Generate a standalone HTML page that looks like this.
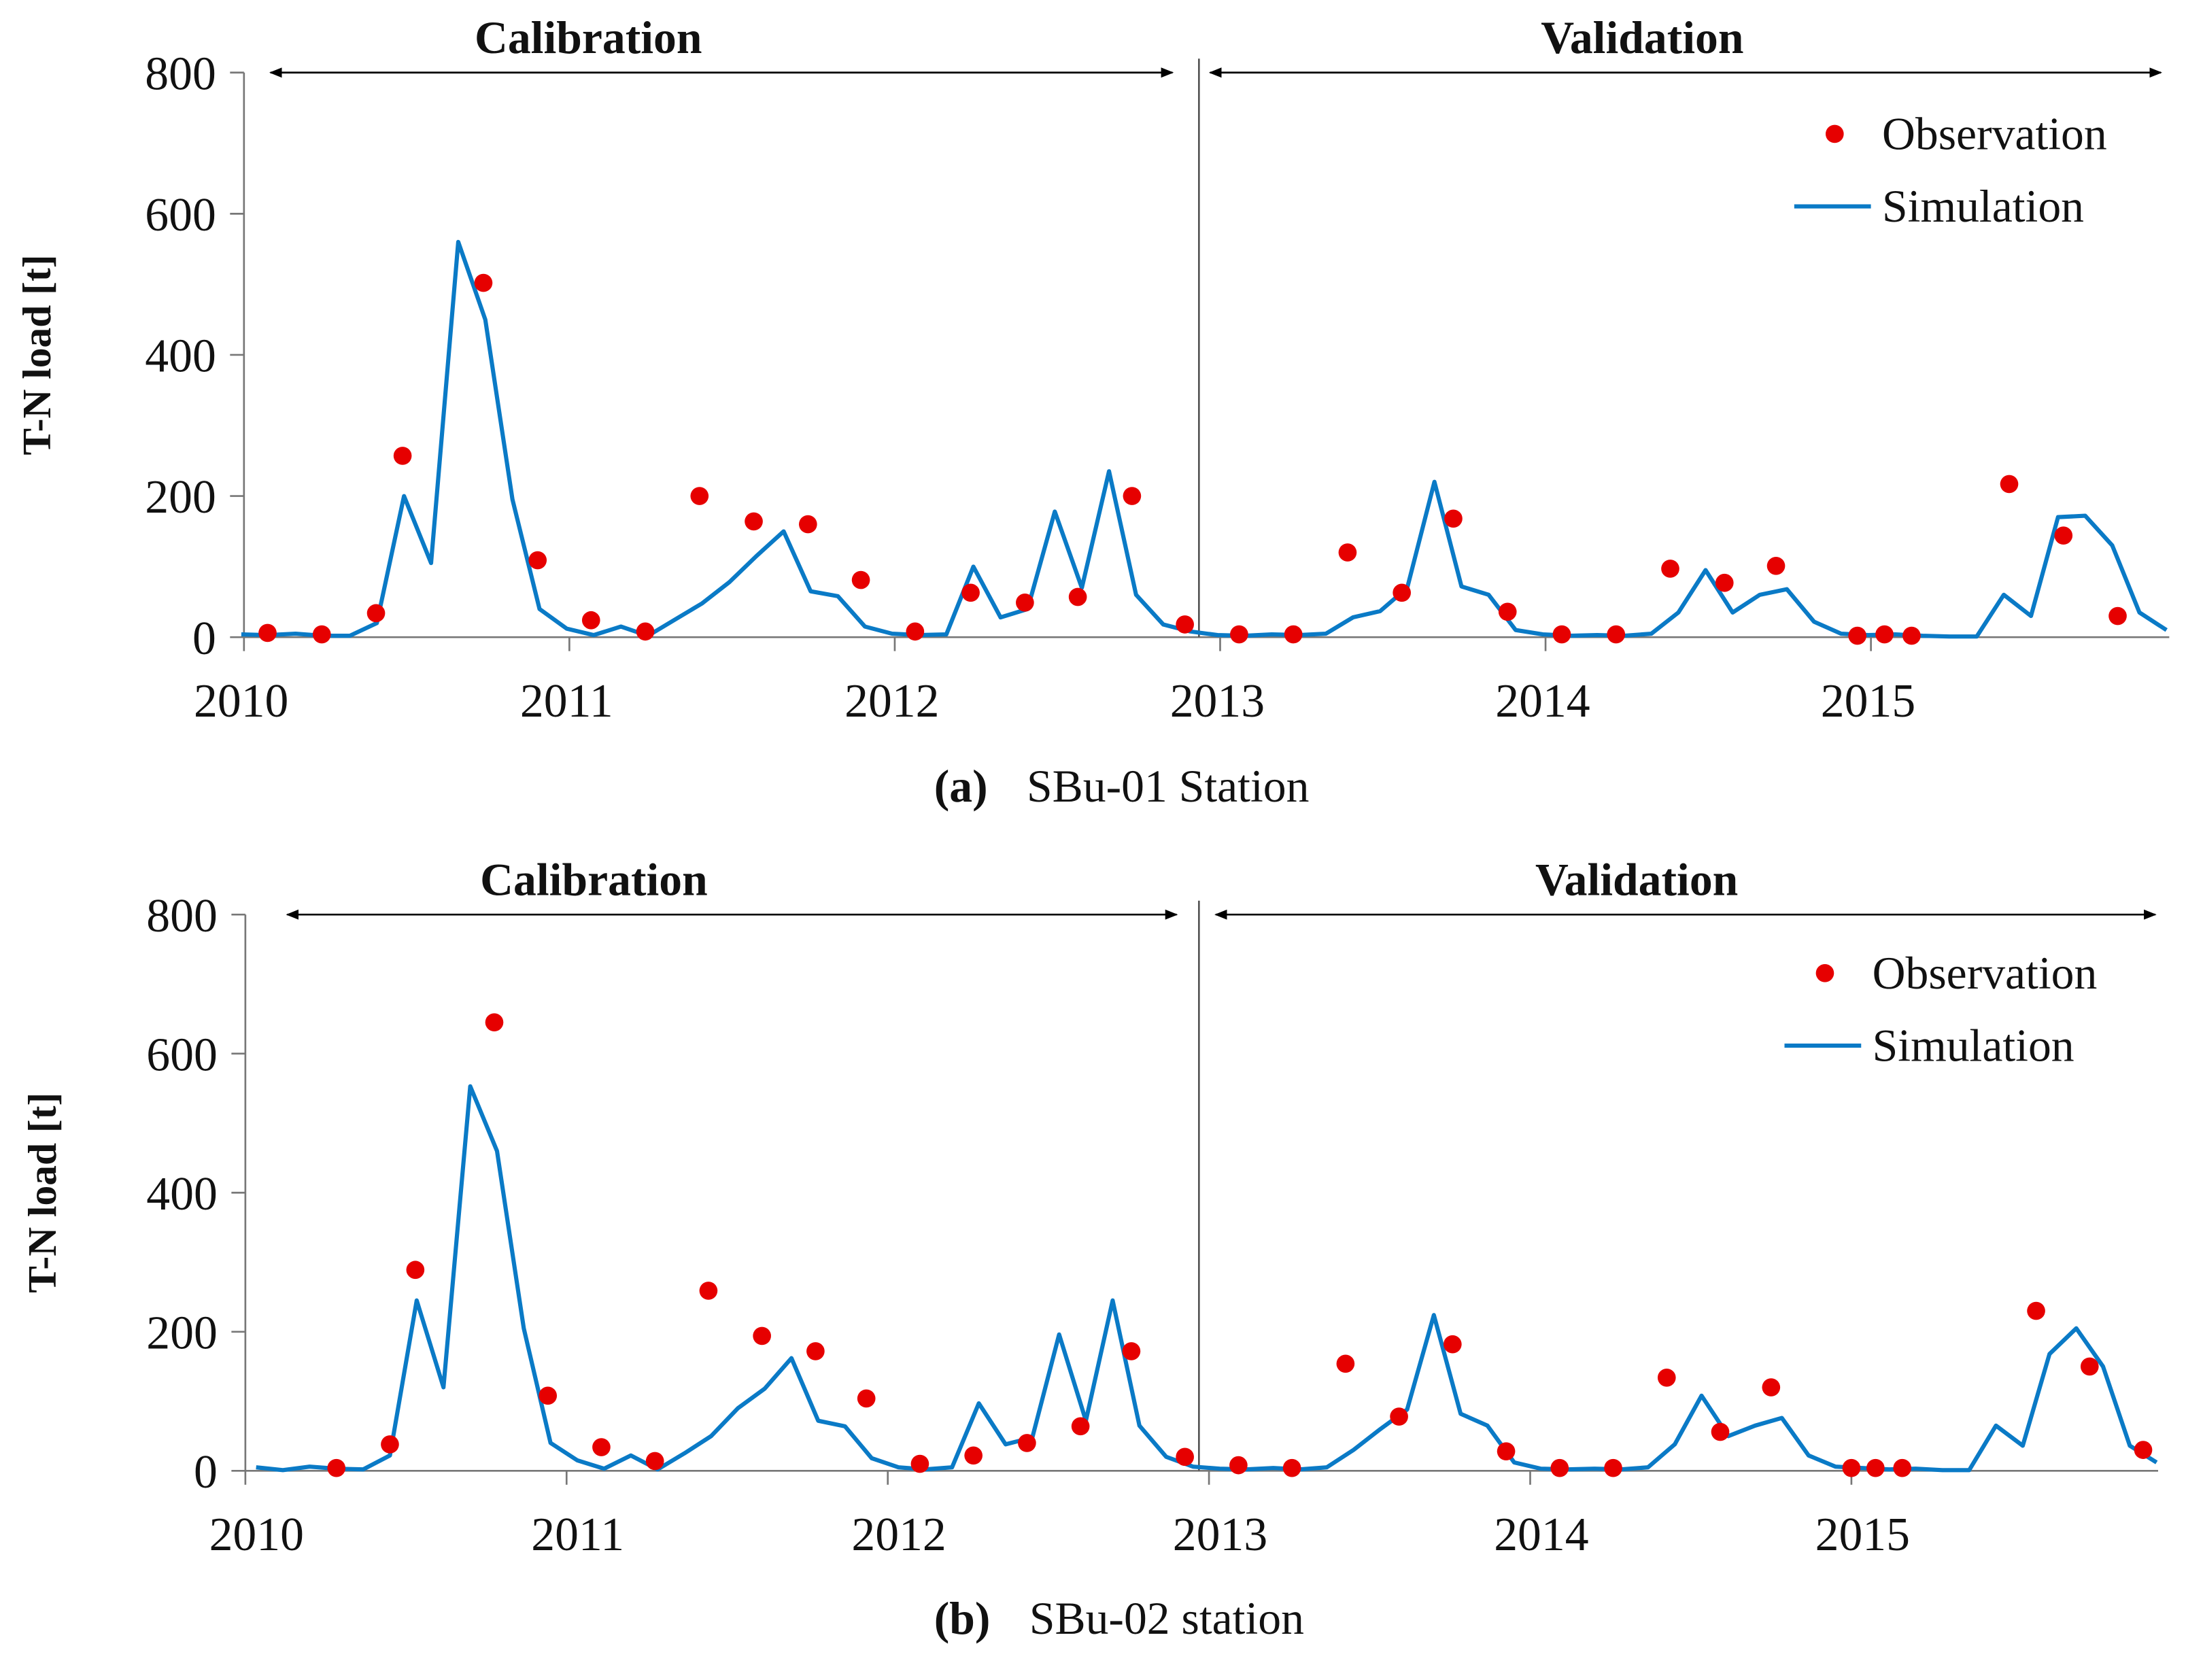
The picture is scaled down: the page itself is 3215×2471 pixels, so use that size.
<!DOCTYPE html>
<html><head><meta charset="utf-8"><style>
html,body{margin:0;padding:0;background:#fff}
svg{display:block}
text{font-family:"Liberation Serif",serif;fill:#111}
</style></head><body>
<svg id="chart" width="3215" height="2471" viewBox="0 0 1568 1205" xmlns="http://www.w3.org/2000/svg">
<defs>
<marker id="ah" viewBox="0 0 10 10" refX="9" refY="5" markerWidth="7" markerHeight="7" orient="auto-start-reverse"><path d="M0,1 L10,5 L0,9 z" fill="#000"/></marker>
</defs>
</svg>
<script>
const yTicks=[0,200,400,600,800];
const yearLabels=["2010","2011","2012","2013","2014","2015"];
// Panel (a) SBu-01
const simA=[4,3,5,2,2,20,200,105,560,450,195,40,12,3,15,2,25,48,78,115,150,65,58,15,5,3,4,100,28,40,178,70,235,60,18,8,3,2,4,3,5,28,37,70,220,72,60,10,4,2,3,2,5,35,95,35,60,68,22,5,3,4,2,1,1,60,30,170,172,130,35,10];
const obsMonthA=[0.87,2.87,4.87,5.85,8.83,10.83,12.8,14.8,16.8,18.8,20.8,22.75,24.75,26.8,28.8,30.75,32.75,34.7,36.7,38.7,40.7,42.7,44.6,46.6,48.6,50.6,52.6,54.6,56.5,59.5,60.5,61.5,65.1,67.1,69.1];
const obsValA=[6,4,34,257,502,109,24,8,200,164,160,81,8,63,49,57,200,18,4,4,120,63,168,36,4,4,97,77,101,2,4,2,217,144,30];
// Panel (b) SBu-02
const simB=[5,1,6,3,2,22,245,120,553,460,205,40,15,3,22,2,25,50,90,118,162,72,64,18,5,2,5,97,38,48,196,72,245,65,20,6,3,2,4,2,5,30,60,88,224,82,65,12,3,2,3,2,5,38,108,50,65,76,22,6,4,2,3,1,1,65,36,168,205,150,36,12];
const obsMonthB=[3.4,5.4,6.35,9.3,11.3,13.3,15.3,17.3,19.3,21.3,23.2,25.2,27.2,29.2,31.2,33.1,35.1,37.1,39.1,41.1,43.1,45.1,47.1,49.1,51.1,53.1,55.1,57.0,60.0,60.9,61.9,66.9,68.9,70.9];
const obsValB=[4,38,289,645,108,34,14,259,194,172,104,10,22,40,64,172,20,8,4,154,78,182,28,4,4,134,56,120,4,4,4,230,150,30];

const NS="http://www.w3.org/2000/svg";
const SERIF='"Liberation Serif", "Times New Roman", serif';
const SANS='"Liberation Sans", Arial, sans-serif';
const svg=document.getElementById('chart');
function mk(tag,attrs,parent,txt){const e=document.createElementNS(NS,tag);for(const k in attrs)e.setAttribute(k,attrs[k]);if(txt!==undefined)e.textContent=txt;(parent||svg).appendChild(e);return e;}

function panel(cfg){
  const g=mk('g',{});
  
  
  const y=v=>cfg.y0-(v/800)*(cfg.y0-cfg.y800);
  const xm=m=>cfg.ax+(m+cfg.off)*cfg.mw;
  const xt=yr=>cfg.ax+yr*12*cfg.mw;
  const ya=mk('line',{x1:cfg.ax,y1:cfg.y800,x2:cfg.ax,y2:cfg.y0,stroke:'#777','stroke-width':1.3},g);
  
  const xa=mk('line',{x1:cfg.ax,y1:cfg.y0,x2:cfg.xend,y2:cfg.y0,stroke:'#777','stroke-width':1.3},g);
  
  yTicks.forEach(v=>{
    const t=mk('line',{x1:cfg.ax-10,y1:y(v),x2:cfg.ax,y2:y(v),stroke:'#777','stroke-width':1.3},g);
    
    const l=mk('text',{x:cfg.ax-20,y:y(v)+12,'text-anchor':'end','font-size':34,'font-family':SERIF},g,String(v));
    
  });
  yearLabels.forEach((s,i)=>{
    const t=mk('line',{x1:xt(i),y1:cfg.y0,x2:xt(i),y2:cfg.y0+10,stroke:'#777','stroke-width':1.3},g);
    
    const l=mk('text',{x:xt(i)+cfg.lblOff,y:cfg.y0+57,'text-anchor':'middle','font-size':34,'font-family':SERIF},g,s);
    
  });
  const d=mk('line',{x1:860,y1:cfg.y800-10,x2:860,y2:cfg.y0,stroke:'#555','stroke-width':1.3},g);
  
  const a1=mk('line',{x1:cfg.a1[0],y1:cfg.y800,x2:cfg.a1[1],y2:cfg.y800,stroke:'#000','stroke-width':1.3,'marker-start':'url(#ah)','marker-end':'url(#ah)'},g);
  
  const a2=mk('line',{x1:cfg.a2[0],y1:cfg.y800,x2:cfg.a2[1],y2:cfg.y800,stroke:'#000','stroke-width':1.3,'marker-start':'url(#ah)','marker-end':'url(#ah)'},g);
  
  const c1=mk('text',{x:cfg.calX,y:cfg.y800-14,'text-anchor':'middle','font-size':33,'font-weight':'bold','font-family':SERIF},g,'Calibration');
  
  const c2=mk('text',{x:cfg.valX,y:cfg.y800-14,'text-anchor':'middle','font-size':33,'font-weight':'bold','font-family':SERIF},g,'Validation');
  
  const yt=mk('text',{x:0,y:0,'text-anchor':'middle','font-size':29,'font-weight':'bold','font-family':SANS,transform:`translate(${cfg.ytX},${(cfg.y0+cfg.y800)/2}) rotate(-90)`},g,'T-N load [t]');
  
  const pts=cfg.sim.map((v,i)=>xm(i).toFixed(1)+','+y(v).toFixed(1)).join(' ');
  const pl=mk('polyline',{points:pts,fill:'none',stroke:'#0a7ac6','stroke-width':3,'stroke-linejoin':'round'},g);
  
  cfg.obsM.forEach((m,i)=>{
    const c=mk('circle',{cx:cfg.ax+m*cfg.mw,cy:y(cfg.obsV[i]),r:6.5,fill:'#e60000'},g);
    
  });
  const lg=mk('g',{},g);
  
  const ld=mk('circle',{cx:cfg.lg[0],cy:cfg.lg[1],r:6.5,fill:'#e60000'},lg);
  
  const lt1=mk('text',{x:cfg.lg[0]+34,y:cfg.lg[1]+11,'font-size':33,'font-family':SERIF},lg,'Observation');
  
  const ll=mk('line',{x1:cfg.lg[0]-29,y1:cfg.lg[1]+52,x2:cfg.lg[0]+26,y2:cfg.lg[1]+52,stroke:'#0a7ac6','stroke-width':3},lg);
  
  const lt2=mk('text',{x:cfg.lg[0]+34,y:cfg.lg[1]+63,'font-size':33,'font-family':SERIF},lg,'Simulation');
  
  const cap=mk('text',{x:cfg.capX,y:cfg.capY,'font-size':33,'font-family':SERIF},g);
  
  mk('tspan',{'font-weight':'bold'},cap,cfg.capA);
  mk('tspan',{dx:28},cap,cfg.capB);
}
panel({name:'panel-a-sbu01',ax:175,y0:457,y800:52,mw:19.45,off:-0.1,xend:1556,lblOff:-2,a1:[194,841],a2:[868,1550],calX:422,valX:1178,ytX:36,sim:simA,obsM:obsMonthA,obsV:obsValA,lg:[1316,96],capX:670,capY:575,capA:'(a)',capB:'SBu-01 Station'});
panel({name:'panel-b-sbu02',ax:176,y0:1055,y800:656,mw:19.2,off:0.4,xend:1548,lblOff:8,a1:[206,844],a2:[872,1546],calX:426,valX:1174,ytX:40,sim:simB,obsM:obsMonthB,obsV:obsValB,lg:[1309,698],capX:670,capY:1172,capA:'(b)',capB:'SBu-02 station'});
</script>
</body></html>
